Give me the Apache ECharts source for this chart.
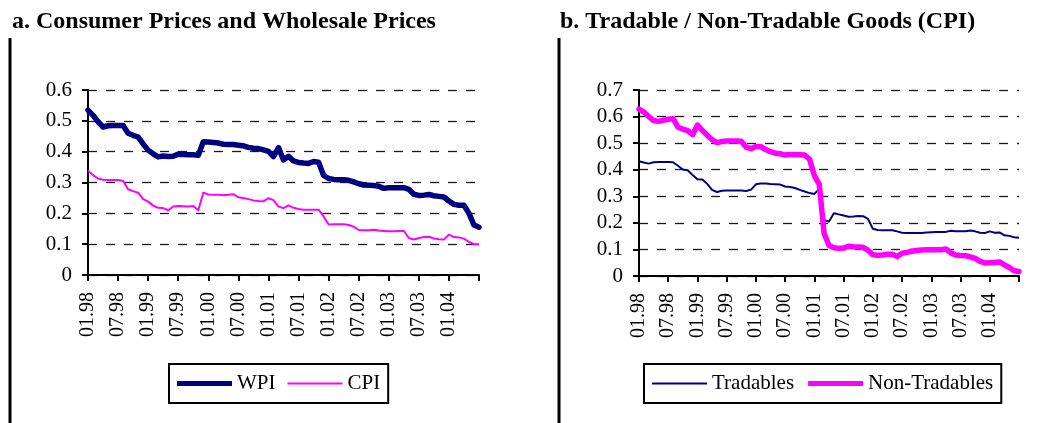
<!DOCTYPE html>
<html>
<head>
<meta charset="utf-8">
<title>Prices</title>
<script src="https://cdn.jsdelivr.net/npm/echarts@6/dist/echarts.min.js"></script>
<style>
  html, body { margin: 0; padding: 0; background: #fff; }
  #chart { width: 1063px; height: 423px; }
</style>
</head>
<body>
<div id="chart"></div>
<script>
// monthly categories 01.98 .. 07.04
var months = [];
for (var i = 0; i < 79; i++) {
  var m = i % 12 + 1, y = (98 + Math.floor(i / 12)) % 100;
  months.push((m < 10 ? '0' : '') + m + '.' + (y < 10 ? '0' : '') + y);
}

// panel a
var wpi = [0.535, 0.518, 0.497, 0.48, 0.484, 0.485, 0.485, 0.485, 0.46, 0.453,
  0.447, 0.425, 0.405, 0.393, 0.383, 0.386, 0.384, 0.385, 0.392, 0.391,
  0.39, 0.39, 0.388, 0.432, 0.431, 0.43, 0.428, 0.424, 0.423, 0.423,
  0.421, 0.419, 0.414, 0.411, 0.41, 0.406, 0.401, 0.384, 0.413, 0.373,
  0.385, 0.37, 0.365, 0.363, 0.362, 0.368, 0.366, 0.323, 0.313, 0.31,
  0.309, 0.309, 0.307, 0.302, 0.296, 0.292, 0.291, 0.29, 0.288, 0.281,
  0.283, 0.283, 0.283, 0.283, 0.278, 0.262, 0.258, 0.259, 0.261, 0.257,
  0.255, 0.253, 0.24, 0.229, 0.226, 0.226, 0.2, 0.162, 0.155];
var cpi = [0.338, 0.324, 0.313, 0.309, 0.308, 0.308, 0.308, 0.305, 0.278, 0.272,
  0.267, 0.246, 0.238, 0.225, 0.218, 0.217, 0.21, 0.222, 0.224, 0.223,
  0.222, 0.224, 0.21, 0.267, 0.261, 0.26, 0.26, 0.259, 0.26, 0.262,
  0.252, 0.25, 0.246, 0.242, 0.24, 0.239, 0.249, 0.243, 0.222, 0.217,
  0.226, 0.218, 0.214, 0.212, 0.212, 0.212, 0.212, 0.19, 0.164, 0.165,
  0.165, 0.165, 0.162, 0.157, 0.146, 0.145, 0.145, 0.147, 0.144, 0.143,
  0.142, 0.142, 0.143, 0.143, 0.12, 0.115, 0.12, 0.123, 0.124, 0.118,
  0.116, 0.115, 0.131, 0.123, 0.122, 0.118, 0.107, 0.1, 0.1];

// panel b
var tradables = [0.432, 0.427, 0.423, 0.428, 0.429, 0.429, 0.429, 0.428, 0.415, 0.401,
  0.398, 0.38, 0.364, 0.363, 0.347, 0.324, 0.316, 0.321, 0.322, 0.322,
  0.322, 0.322, 0.32, 0.325, 0.345, 0.348, 0.348, 0.346, 0.345, 0.344,
  0.337, 0.335, 0.331, 0.324, 0.318, 0.312, 0.309, 0.328, 0.21, 0.205,
  0.236, 0.232, 0.228, 0.223, 0.224, 0.226, 0.225, 0.215, 0.178, 0.173,
  0.172, 0.172, 0.172, 0.168, 0.163, 0.162, 0.162, 0.162, 0.162, 0.164,
  0.165, 0.166, 0.166, 0.166, 0.17, 0.168, 0.168, 0.168, 0.171, 0.168,
  0.163, 0.162, 0.168, 0.163, 0.164, 0.153, 0.151, 0.146, 0.144];
var nonTradables = [0.628, 0.617, 0.6, 0.585, 0.582, 0.586, 0.59, 0.592, 0.56, 0.553,
  0.547, 0.532, 0.568, 0.548, 0.53, 0.513, 0.502, 0.506, 0.508, 0.508,
  0.508, 0.507, 0.485, 0.479, 0.487, 0.487, 0.476, 0.468, 0.462, 0.46,
  0.455, 0.457, 0.457, 0.456, 0.455, 0.44, 0.378, 0.345, 0.16, 0.115,
  0.106, 0.104, 0.105, 0.112, 0.11, 0.109, 0.108, 0.097, 0.08, 0.078,
  0.079, 0.082, 0.082, 0.073, 0.086, 0.089, 0.093, 0.096, 0.098, 0.099,
  0.099, 0.099, 0.099, 0.102, 0.087, 0.079, 0.077, 0.076, 0.072, 0.066,
  0.055, 0.049, 0.05, 0.051, 0.053, 0.042, 0.032, 0.02, 0.017];

var font = 'Liberation Serif';
var navy = '#000080', magenta = '#ff00ff';
// legend line samples (thick / thin)
var thickIcon = 'path://M0,0L55,0L55,5L0,5Z';
var thinIcon = 'path://M0,0L55,0L55,2L0,2Z';

function xAxis(g) {
  return {
    type: 'category', gridIndex: g, data: months, boundaryGap: false,
    axisLine: { lineStyle: { color: '#000', width: 2 } },
    axisTick: { interval: 5, length: 6, lineStyle: { color: '#000', width: 2 } },
    axisLabel: {
      interval: function (idx) { return idx % 6 === 0 && idx < 78; },
      rotate: 90, margin: 17, color: '#000', fontFamily: font, fontSize: 20
    },
    splitLine: { show: false }
  };
}
function yAxis(g, max) {
  return {
    type: 'value', gridIndex: g, min: 0, max: max, interval: 0.1,
    axisLine: { show: true, lineStyle: { color: '#000', width: 2 } },
    axisTick: { show: true, length: 6, lineStyle: { color: '#000', width: 2 } },
    axisLabel: {
      margin: 16, color: '#000', fontFamily: font, fontSize: 21,
      formatter: function (v) { return String(parseFloat(v.toFixed(1))); }
    },
    splitLine: { lineStyle: { color: '#1a1a1a', width: 1.3, type: [9, 9] } }
  };
}
function legend(left, items, gap) {
  return {
    left: left, top: 364, data: items, orient: 'horizontal',
    borderColor: '#000', borderWidth: 2, backgroundColor: '#fff',
    padding: [9, 8], itemGap: gap, itemWidth: 55, itemHeight: 16,
    textStyle: { color: '#000', fontFamily: font, fontSize: 21 }
  };
}

var chart = echarts.init(document.getElementById('chart'));
chart.setOption({
  animation: false,
  title: [
    { text: 'a. Consumer Prices and Wholesale Prices', left: 7, top: 5,
      textStyle: { fontFamily: font, fontWeight: 'bold', fontSize: 24, color: '#000' } },
    { text: 'b. Tradable / Non-Tradable Goods (CPI)', left: 555, top: 5,
      textStyle: { fontFamily: font, fontWeight: 'bold', fontSize: 24, color: '#000' } }
  ],
  legend: [
    legend(169, [{ name: 'WPI', icon: thickIcon }, { name: 'CPI', icon: thinIcon }], 12),
    legend(644, [{ name: 'Tradables', icon: thinIcon }, { name: 'Non-Tradables', icon: thickIcon }], 14)
  ],
  grid: [
    { left: 88, top: 90, width: 391, height: 185 },
    { left: 639, top: 90, width: 380, height: 186 }
  ],
  xAxis: [xAxis(0), xAxis(1)],
  yAxis: [yAxis(0, 0.6), yAxis(1, 0.7)],
  series: [
    { name: 'WPI', type: 'line', xAxisIndex: 0, yAxisIndex: 0, data: wpi, symbol: 'none',
      itemStyle: { color: navy }, lineStyle: { color: navy, width: 5.5, join: 'round', cap: 'round' } },
    { name: 'CPI', type: 'line', xAxisIndex: 0, yAxisIndex: 0, data: cpi, symbol: 'none',
      itemStyle: { color: magenta }, lineStyle: { color: magenta, width: 2, join: 'round' } },
    { name: 'Tradables', type: 'line', xAxisIndex: 1, yAxisIndex: 1, data: tradables, symbol: 'none',
      itemStyle: { color: navy }, lineStyle: { color: navy, width: 2, join: 'round' } },
    { name: 'Non-Tradables', type: 'line', xAxisIndex: 1, yAxisIndex: 1, data: nonTradables, symbol: 'none',
      itemStyle: { color: magenta }, lineStyle: { color: magenta, width: 5.5, join: 'round', cap: 'round' } }
  ],
  graphic: [
    { type: 'line', shape: { x1: 10, y1: 38, x2: 10, y2: 423 }, style: { stroke: '#000', lineWidth: 3 } },
    { type: 'line', shape: { x1: 559, y1: 38, x2: 559, y2: 423 }, style: { stroke: '#000', lineWidth: 3 } }
  ]
});
</script>
</body>
</html>
